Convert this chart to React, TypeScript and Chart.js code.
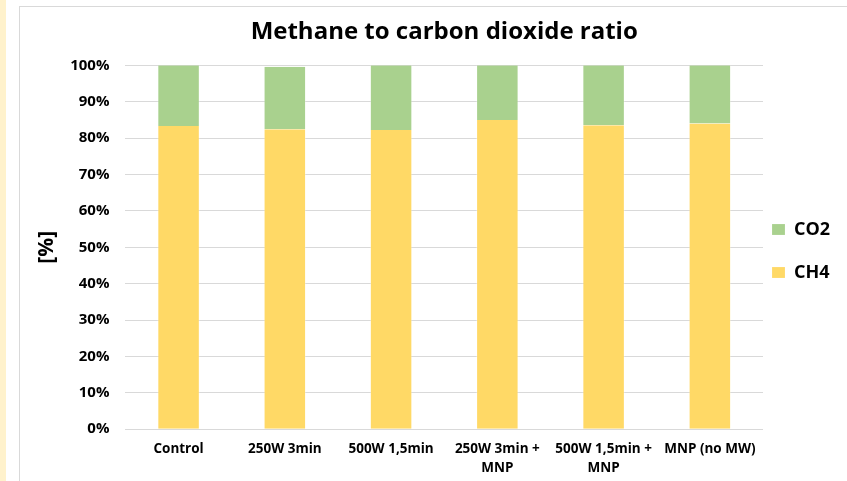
import React, { useEffect, useRef } from "react";
import { Chart, registerables } from "chart.js";

Chart.register(...registerables);

// Categories and stacked shares (percent of total biogas)
const categories: (string | string[])[] = [
  "Control",
  "250W 3min",
  "500W 1,5min",
  ["250W 3min +", "MNP"],
  ["500W 1,5min +", "MNP"],
  "MNP (no MW)",
];
const ch4Share = [83.3, 82.4, 82.2, 85.0, 83.5, 84.0];
const co2Share = [16.7, 17.2, 17.8, 15.0, 16.5, 16.0];

const yMin = 0;
const yMax = 100;
const yStep = 10;

const FONT = "'Open Sans', Lato, sans-serif";
const TEXT = "#000000";

// Centres the title over the plot area and pulls the legend in towards it
const layoutTweaks = {
  id: "layoutTweaks",
  afterLayout(chart: any, _args: any, opts: any) {
    const area = chart.chartArea;
    const tb = chart.titleBlock;
    if (tb && area) {
      tb.left = area.left;
      tb.right = area.right;
      tb.width = area.right - area.left;
    }
    const lg = chart.legend;
    if (lg) {
      lg.left += opts.legendDx || 0;
      lg.top += opts.legendDy || 0;
      lg.bottom += opts.legendDy || 0;
    }
  },
};

const sideBorder = { left: 1, right: 1, top: 0, bottom: 0 };

export default function App() {
  const canvasRef = useRef<HTMLCanvasElement | null>(null);

  useEffect(() => {
    if (!canvasRef.current) return;
    const chart = new Chart(canvasRef.current, {
      type: "bar",
      data: {
        labels: categories,
        datasets: [
          {
            label: "CH4",
            data: ch4Share,
            backgroundColor: "#FFD966",
            borderColor: "rgba(255,255,255,0.3)",
            borderWidth: sideBorder,
            borderSkipped: false,
          },
          {
            label: "CO2",
            data: co2Share,
            backgroundColor: "#A9D18E",
            borderColor: "rgba(255,255,255,0.3)",
            borderWidth: sideBorder,
            borderSkipped: false,
          },
        ],
      },
      plugins: [layoutTweaks],
      options: {
        animation: false,
        responsive: true,
        maintainAspectRatio: false,
        datasets: {
          bar: { categoryPercentage: 1, barPercentage: 0.4 },
        },
        layout: { padding: { left: 7, right: 0, top: 0, bottom: 3 } },
        plugins: {
          title: {
            display: true,
            text: "Methane to carbon dioxide ratio",
            color: TEXT,
            font: { family: FONT, size: 24, weight: "bold" },
            padding: { top: 11, bottom: 18.5 },
          },
          legend: {
            display: true,
            position: "right",
            reverse: true,
            maxWidth: 84,
            labels: {
              color: TEXT,
              font: { family: FONT, size: 18, weight: "bold" },
              boxWidth: 13,
              boxHeight: 11,
              padding: 25,
            },
          },
          tooltip: { enabled: false },
          layoutTweaks: { legendDx: -16, legendDy: 3 },
        } as any,
        scales: {
          x: {
            stacked: true,
            grid: { display: false, drawTicks: false },
            border: { display: false },
            ticks: {
              color: TEXT,
              padding: 11,
              maxRotation: 0,
              autoSkip: false,
              font: { family: FONT, size: 13.5, weight: "bold", lineHeight: 1.4 },
            },
          },
          y: {
            stacked: true,
            min: yMin,
            max: yMax,
            grid: { color: "#D9D9D9", lineWidth: 1, drawTicks: false },
            border: { display: false },
            ticks: {
              stepSize: yStep,
              color: TEXT,
              padding: 16,
              font: { family: FONT, size: 15, weight: "bold" },
              callback: (v: any) => `${v}%`,
            },
            title: {
              display: true,
              text: "[%]",
              color: TEXT,
              font: { family: FONT, size: 21, weight: "bold" },
              padding: { top: 7, bottom: -5 },
            },
          },
        },
      },
    });
    return () => chart.destroy();
  }, []);

  return (
    <div
      style={{
        position: "fixed",
        inset: 0,
        overflow: "hidden",
        background: "#FFFFFF",
      }}
    >
      <div
        style={{
          position: "absolute",
          left: 0,
          top: 0,
          width: 6,
          height: "100%",
          background: "#FFF2CC",
        }}
      />
      <div
        style={{
          position: "absolute",
          left: 19,
          top: 6,
          right: 0,
          bottom: 0,
          borderLeft: "1px solid #D9D9D9",
          borderTop: "1px solid #D9D9D9",
        }}
      />
      <div
        style={{
          position: "absolute",
          left: 20,
          top: 7,
          width: 827,
          height: 485,
        }}
      >
        <canvas ref={canvasRef} />
      </div>
    </div>
  );
}
